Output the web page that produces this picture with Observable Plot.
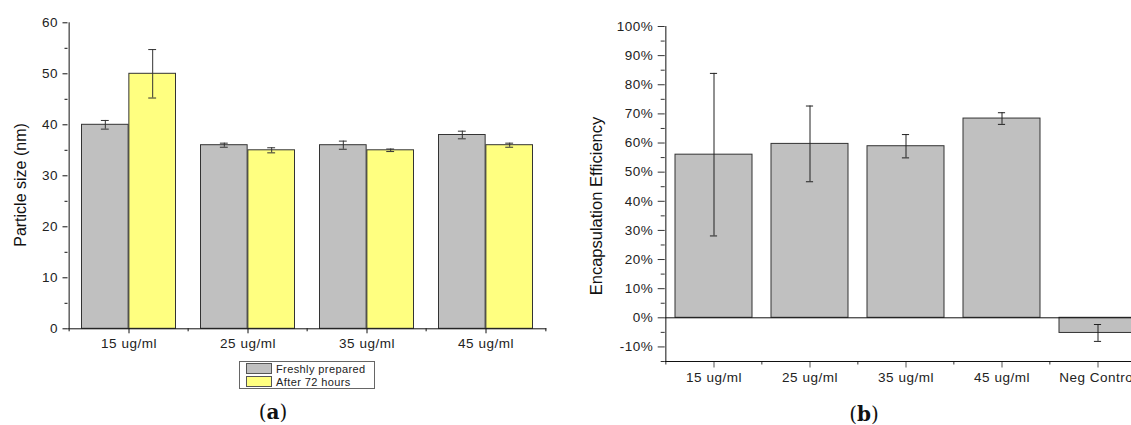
<!DOCTYPE html>
<html><head><meta charset="utf-8">
<script src="https://cdn.jsdelivr.net/npm/d3@7"></script>
<script src="https://cdn.jsdelivr.net/npm/@observablehq/plot@0.6"></script>
<style>
html,body{margin:0;padding:0;background:#fff;overflow:hidden;width:1131px;height:425px;}
#wrap{position:relative;width:1131px;height:425px;overflow:hidden;font-family:"Liberation Sans",Arial,sans-serif;color:#222;}
#left,#right{position:absolute;top:0;}
#left{left:0;width:560px;}
#right{left:560px;width:590px;}
#wrap svg{max-width:none !important;display:block;}
.ytitle{position:absolute;white-space:nowrap;transform:translate(-50%,-50%) rotate(-90deg);color:#111;line-height:1;}
#legend{position:absolute;left:239px;top:361px;width:134px;height:26px;border:1px solid #666;font-size:11px;letter-spacing:0.4px;}
.lrow{position:absolute;left:6px;height:11px;display:flex;align-items:center;}
.sw{width:24px;height:9px;border:1px solid #555;margin-right:4px;}
.panel{position:absolute;font-family:"DejaVu Serif","Liberation Serif",serif;font-size:20px;color:#111;transform:translateX(-50%);line-height:1;}
</style></head>
<body><div id="wrap">
<div id="left"></div>
<div id="right"></div>
<div class="ytitle" style="left:21px;top:185px;font-size:16px;">Particle size (nm)</div>
<div class="ytitle" style="left:596px;top:206px;font-size:16.5px;">Encapsulation Efficiency</div>
<div id="legend">
  <div class="lrow" style="top:1px;"><div class="sw" style="background:#c0c0c0"></div>Freshly prepared</div>
  <div class="lrow" style="top:14px;"><div class="sw" style="background:#ffff80"></div>After 72 hours</div>
</div>
<div class="panel" style="left:273px;top:402px;">(<b>a</b>)</div>
<div class="panel" style="left:864px;top:404px;">(<b>b</b>)</div>
</div>
<script>
// ---- data: panel (a)
const concA = ["15 ug/ml", "25 ug/ml", "35 ug/ml", "45 ug/ml"];
const seriesA = ["Freshly prepared", "After 72 hours"];
const fresh = [40, 36, 36, 38];
const freshErr = [0.85, 0.4, 0.8, 0.75];
const after72 = [50, 35, 35, 36];
const after72Err = [4.75, 0.5, 0.25, 0.4];
const yTicksA = [0, 10, 20, 30, 40, 50, 60];
const yMinorA = [5, 15, 25, 35, 45, 55];

// ---- data: panel (b)
const concB = ["15 ug/ml", "25 ug/ml", "35 ug/ml", "45 ug/ml", "Neg Control"];
const ee = [0.56, 0.597, 0.589, 0.684, -0.052];
const eeErr = [0.279, 0.13, 0.04, 0.02, 0.029];
const yTicksB = [-0.1, 0, 0.1, 0.2, 0.3, 0.4, 0.5, 0.6, 0.7, 0.8, 0.9, 1.0];
const yMinorB = [-0.15, -0.05, 0.05, 0.15, 0.25, 0.35, 0.45, 0.55, 0.65, 0.75, 0.85, 0.95];

const colors = {"Freshly prepared": "#c0c0c0", "After 72 hours": "#ffff80"};
const baseStyle = "font-family:'Liberation Sans',Arial,sans-serif;font-size:13.5px;letter-spacing:0.5px;color:#222;background:transparent;overflow:visible;max-width:none;";

// ---------- Panel (a)
const rowsFresh = concA.map((c, i) => ({conc: c, series: seriesA[0], value: fresh[i], err: freshErr[i]}));
const rowsAfter = concA.map((c, i) => ({conc: c, series: seriesA[1], value: after72[i], err: after72Err[i]}));

const LW = 560, LH = 360, Lml = 67.5, Lmr = 13.6, Lmt = 22.3, Lmb = 31.7;
const Lstep = (LW - Lml - Lmr) / concA.length;
const Lgap = 12.5, Lbar = (Lstep - 2 * Lgap) / 2, Lcap = 4.3;
const grayCenter = Lgap + Lbar / 2;        // from band start
const yelCenter = Lgap + Lbar * 1.5;

const left = Plot.plot({
  width: LW, height: LH,
  marginLeft: Lml, marginRight: Lmr, marginTop: Lmt, marginBottom: Lmb,
  style: baseStyle,
  x: {domain: concA, padding: 0, label: null},
  y: {domain: [0, 60], label: null},
  marks: [
    Plot.barY(rowsFresh, {x: "conc", y1: 0, y2: "value", fill: d => colors[d.series], stroke: "#333", strokeWidth: 1,
      insetLeft: Lgap, insetRight: Lstep - Lgap - Lbar}),
    Plot.barY(rowsAfter, {x: "conc", y1: 0, y2: "value", fill: d => colors[d.series], stroke: "#333", strokeWidth: 1,
      insetLeft: Lgap + Lbar, insetRight: Lgap}),
    // error bars
    Plot.ruleX(rowsFresh, {x: "conc", y1: d => d.value - d.err, y2: d => d.value + d.err, dx: grayCenter - Lstep / 2, stroke: "#333"}),
    Plot.ruleX(rowsAfter, {x: "conc", y1: d => d.value - d.err, y2: d => d.value + d.err, dx: yelCenter - Lstep / 2, stroke: "#333"}),
    ...[d => d.value - d.err, d => d.value + d.err].flatMap(f => [
      Plot.tickY(rowsFresh, {x: "conc", y: f, stroke: "#333", insetLeft: grayCenter - Lcap, insetRight: Lstep - grayCenter - Lcap}),
      Plot.tickY(rowsAfter, {x: "conc", y: f, stroke: "#333", insetLeft: yelCenter - Lcap, insetRight: Lstep - yelCenter - Lcap})
    ]),
    // axes
    Plot.axisY({ticks: yTicksA, tickSize: 5, tickPadding: 5, label: null, fill: "#222", stroke: "#111"}),
    Plot.axisY({ticks: yMinorA, tickSize: 3, tickFormat: () => "", label: null, stroke: "#111"}),
    Plot.axisX({tickSize: 5, tickPadding: 5, label: null, fill: "#222", stroke: "#111"}),
    Plot.ruleX(concA, {x: d => d, dx: -Lstep / 2, y1: 0, y2: 0, insetBottom: -3, stroke: "#111"}),
    Plot.ruleX(concA.slice(-1), {x: d => d, dx: Lstep / 2, y1: 0, y2: 0, insetBottom: -3, stroke: "#111"}),
    Plot.ruleY([0], {stroke: "#111"}),
    Plot.ruleX(concA.slice(0, 1), {x: d => d, dx: -Lstep / 2, y1: 0, y2: 60, stroke: "#111"})
  ]
});
document.getElementById("left").appendChild(left);

// ---------- Panel (b)
const rowsB = concB.map((c, i) => ({conc: c, value: ee[i], err: eeErr[i]}));
const RW = 590, RH = 400, Rml = 104.7, Rmr = 3.8, Rmt = 26, Rmb = 39;
const Rstep = (RW - Rml - Rmr) / concB.length;
const Rbw = Rstep * 0.8, Rcap = 3.6;

const right = Plot.plot({
  width: RW, height: RH,
  marginLeft: Rml, marginRight: Rmr, marginTop: Rmt, marginBottom: Rmb,
  style: baseStyle,
  x: {domain: concB, paddingInner: 0.2, paddingOuter: 0.1, label: null},
  y: {domain: [-0.15, 1.0], label: null},
  marks: [
    Plot.barY(rowsB, {x: "conc", y1: 0, y2: "value", fill: "#c0c0c0", stroke: "#333", strokeWidth: 1}),
    Plot.ruleX(rowsB, {x: "conc", y1: d => d.value - d.err, y2: d => d.value + d.err, stroke: "#222"}),
    Plot.tickY(rowsB, {x: "conc", y: d => d.value - d.err, stroke: "#222", insetLeft: Rbw / 2 - Rcap, insetRight: Rbw / 2 - Rcap}),
    Plot.tickY(rowsB, {x: "conc", y: d => d.value + d.err, stroke: "#222", insetLeft: Rbw / 2 - Rcap, insetRight: Rbw / 2 - Rcap}),
    Plot.ruleY([0], {stroke: "#111"}),
    Plot.axisY({ticks: yTicksB, tickSize: 7, tickPadding: 5, label: null, tickFormat: d => `${Math.round(d * 100)}%`, fill: "#222", stroke: "#333"}),
    Plot.axisY({ticks: yMinorB, tickSize: 4, tickFormat: () => "", label: null, stroke: "#333"}),
    Plot.axisX({tickSize: 6.5, tickPadding: 4, label: null, fill: "#222", stroke: "#555"}),
    Plot.ruleX(concB, {x: d => d, dx: -Rbw / 2 - Rstep * 0.1, y1: -0.15, y2: -0.15, insetBottom: -3.5, stroke: "#333"}),
    Plot.ruleY([-0.15], {stroke: "#111"}),
    Plot.ruleX(concB.slice(0, 1), {x: d => d, dx: -Rbw / 2 - Rstep * 0.1, y1: -0.15, y2: 1.0, stroke: "#111"})
  ]
});
document.getElementById("right").appendChild(right);
</script>
</body></html>
